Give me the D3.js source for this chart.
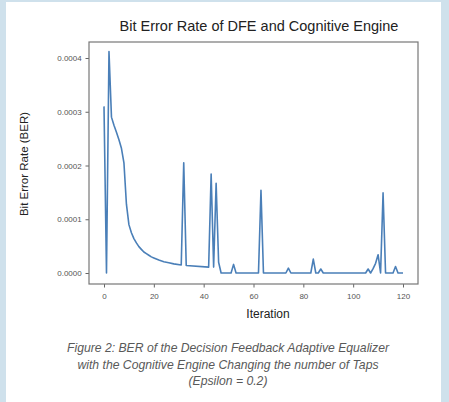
<!DOCTYPE html>
<html>
<head>
<meta charset="utf-8">
<script src="https://cdn.jsdelivr.net/npm/d3@7"></script>
<style>
  html, body { margin: 0; padding: 0; background: #cfe1ec; }
  svg { display: block; }
</style>
</head>
<body>
<div id="chart"></div>
<script>
// iteration / BER pairs (break points of the line)
const iterations = [0, 1, 2, 3, 4, 5, 6, 7, 8, 9, 10, 11, 12, 13, 14, 15, 16, 17, 18, 19, 20, 22, 24, 26, 28, 31,
  32, 33, 42, 43, 44, 45, 46, 47, 51, 52, 53, 62, 63, 64, 73, 74, 75, 83, 84, 85, 86, 87, 88,
  105, 106, 107, 108, 109, 110, 111, 112, 113, 116, 117, 118, 120];
const ber = [0.00031, 0, 0.000412, 0.00029, 0.000275, 0.000262, 0.000248, 0.000232, 0.000205, 0.000128, 0.00009,
  0.000075, 0.000064, 0.000056, 0.000049, 0.000044, 0.000039, 0.000036, 0.000033, 0.00003, 0.000028, 0.000024,
  0.000021, 0.000019, 0.000017, 0.000015,
  0.000205, 0.000014, 0.000011, 0.000184, 0.000011, 0.000167, 0.00002, 0, 0, 0.000016, 0, 0, 0.000154, 0,
  0, 0.000009, 0, 0, 0.000026, 0, 0, 0.0000075, 0,
  0, 0.0000075, 0, 0.000008, 0.000018, 0.000034, 0, 0.000149, 0, 0, 0.000012, 0, 0];
const xTicks = [0, 20, 40, 60, 80, 100, 120];
const yTicks = [0, 0.0001, 0.0002, 0.0003, 0.0004];

const chartTitle = 'Bit Error Rate of DFE and Cognitive Engine';
const xLabel = 'Iteration';
const yLabel = 'Bit Error Rate (BER)';
const caption = [
  'Figure 2: BER of the Decision Feedback Adaptive Equalizer',
  'with the Cognitive Engine Changing the number of Taps',
  '(Epsilon = 0.2)'
];

const width = 449, height = 402;
const box = { left: 89, right: 418, top: 42, bottom: 284 };

const svg = d3.select('#chart').append('svg')
  .attr('width', width)
  .attr('height', height);

// white card on the blue page
svg.append('rect')
  .attr('x', 6).attr('y', 2)
  .attr('width', 435).attr('height', height - 2)
  .attr('fill', '#ffffff');

const x = d3.scaleLinear().domain([0, 120]).range([104, 403]);
const y = d3.scaleLinear().domain([0, 0.0004]).range([273, 58]);

const font = '"Liberation Sans", Arial, sans-serif';

// x axis
const xAxis = svg.append('g')
  .attr('transform', `translate(0,${box.bottom})`)
  .call(d3.axisBottom(x).tickValues(xTicks).tickFormat(d3.format('d')).tickSizeOuter(0).tickSize(3.5));
xAxis.select('.domain').remove();
xAxis.selectAll('line').attr('stroke', '#666');
xAxis.selectAll('text')
  .attr('fill', '#555')
  .attr('font-family', font)
  .attr('font-size', 8)
  .attr('dy', '1.05em');

// y axis
const yAxis = svg.append('g')
  .attr('transform', `translate(${box.left},0)`)
  .call(d3.axisLeft(y).tickValues(yTicks).tickFormat(d3.format('.4f')).tickSizeOuter(0).tickSize(3.5));
yAxis.select('.domain').remove();
yAxis.selectAll('line').attr('stroke', '#666');
yAxis.selectAll('text')
  .attr('fill', '#555')
  .attr('font-family', font)
  .attr('font-size', 8)
  .attr('dx', '-0.1em');

// series
const line = d3.line()
  .x((d, i) => x(iterations[i]))
  .y(d => y(d));

svg.append('path')
  .datum(ber)
  .attr('fill', 'none')
  .attr('stroke', '#4a7fb8')
  .attr('stroke-width', 1.6)
  .attr('stroke-linejoin', 'round')
  .attr('d', line);

// frame (all four spines)
svg.append('rect')
  .attr('x', box.left).attr('y', box.top)
  .attr('width', box.right - box.left)
  .attr('height', box.bottom - box.top)
  .attr('fill', 'none')
  .attr('stroke', '#777')
  .attr('stroke-width', 1.2);

// title and axis labels
svg.append('text')
  .attr('x', 259).attr('y', 31)
  .attr('text-anchor', 'middle')
  .attr('font-family', font)
  .attr('font-size', 14.5)
  .attr('fill', '#222')
  .text(chartTitle);

svg.append('text')
  .attr('x', 268).attr('y', 318)
  .attr('text-anchor', 'middle')
  .attr('font-family', font)
  .attr('font-size', 12)
  .attr('fill', '#222')
  .text(xLabel);

svg.append('text')
  .attr('transform', 'translate(28,164) rotate(-90)')
  .attr('text-anchor', 'middle')
  .attr('font-family', font)
  .attr('font-size', 11.5)
  .attr('fill', '#222')
  .text(yLabel);

// caption
svg.append('g')
  .selectAll('text')
  .data(caption)
  .enter().append('text')
  .attr('x', 228)
  .attr('y', (d, i) => 352 + i * 16.5)
  .attr('text-anchor', 'middle')
  .attr('font-family', font)
  .attr('font-style', 'italic')
  .attr('font-size', 12.2)
  .attr('fill', '#595959')
  .text(d => d);
</script>
</body>
</html>
